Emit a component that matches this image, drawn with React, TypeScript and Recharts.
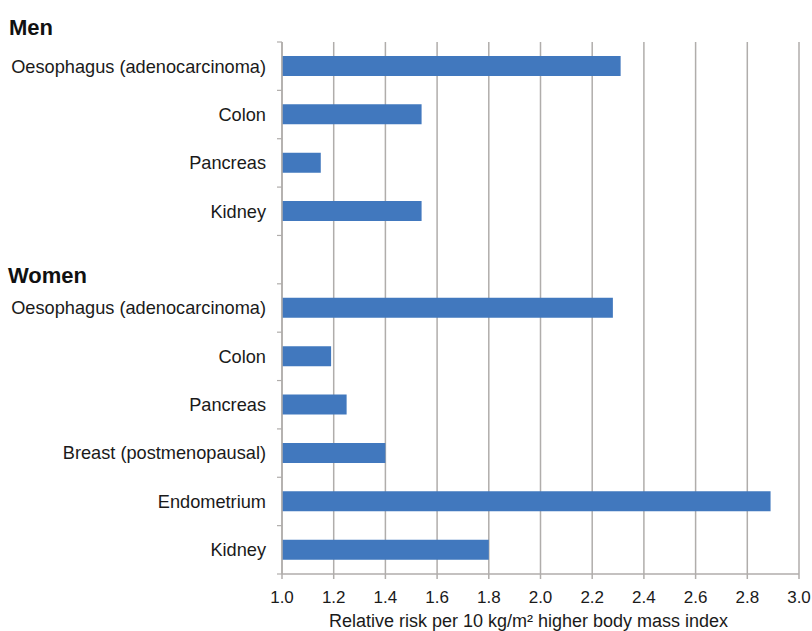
import React from 'react';
import { BarChart, Bar, XAxis, YAxis, CartesianGrid } from 'recharts';

const menCategories = ['Oesophagus (adenocarcinoma)', 'Colon', 'Pancreas', 'Kidney'];
const menRisk = [2.31, 1.54, 1.15, 1.54];
const womenCategories = [
  'Oesophagus (adenocarcinoma)',
  'Colon',
  'Pancreas',
  'Breast (postmenopausal)',
  'Endometrium',
  'Kidney',
];
const womenRisk = [2.28, 1.19, 1.25, 1.4, 2.89, 1.8];
const xTicks = [1.0, 1.2, 1.4, 1.6, 1.8, 2.0, 2.2, 2.4, 2.6, 2.8, 3.0];
const groupHeaders = ['Men', 'Women'];
const xTitle = 'Relative risk per 10 kg/m² higher body mass index';

const data = [
  ...menCategories.map((c, i) => ({ key: `men-${i}`, label: c, risk: menRisk[i] })),
  { key: 'gap', label: '', risk: null },
  ...womenCategories.map((c, i) => ({ key: `women-${i}`, label: c, risk: womenRisk[i] })),
];
const labelByKey: Record<string, string> = {};
data.forEach((d) => (labelByKey[d.key] = d.label));

const W = 812;
const H = 631;
const MARGIN = { top: 42, right: 13, bottom: 0, left: 0 };
const Y_AXIS_W = 282;
const X_AXIS_H = 57;
const BAND = (H - MARGIN.top - MARGIN.bottom - X_AXIS_H) / data.length;
const FONT = '"Liberation Sans", Arial, Helvetica, sans-serif';
const TEXT = '#1a1a1a';
const GRID = '#b0adab';
const BAR = '#4178be';

const YTick = (props: any) => {
  const { y, payload, index } = props;
  const axisX = MARGIN.left + Y_AXIS_W;
  const top = y - BAND / 2;
  const bottom = y + BAND / 2;
  return (
    <g>
      <line x1={axisX - 5} x2={axisX} y1={top} y2={top} stroke={GRID} strokeWidth={1.2} />
      {index === data.length - 1 && (
        <line x1={axisX - 5} x2={axisX} y1={bottom} y2={bottom} stroke={GRID} strokeWidth={1.2} />
      )}
      <text
        x={axisX - 16}
        y={y}
        dy="0.35em"
        textAnchor="end"
        fontSize={18.2}
        fontFamily={FONT}
        fill={TEXT}
      >
        {labelByKey[payload.value]}
      </text>
    </g>
  );
};

export default function App() {
  return (
    <div style={{ position: 'absolute', left: 0, top: 0, width: W, height: H, background: '#fff' }}>
      <BarChart width={W} height={H} data={data} layout="vertical" margin={MARGIN} barSize={20}>
        <CartesianGrid horizontal={false} stroke={GRID} strokeWidth={1.5} />
        <XAxis
          type="number"
          domain={[1, 3]}
          ticks={xTicks}
          interval={0}
          allowDataOverflow
          height={X_AXIS_H}
          tickFormatter={(v: number) => v.toFixed(1)}
          tick={{ fontSize: 17, fontFamily: FONT, fill: TEXT }}
          axisLine={{ stroke: GRID, strokeWidth: 1.5 }}
          tickLine={{ stroke: GRID, strokeWidth: 1.5 }}
          tickSize={5}
          tickMargin={12}
          label={{
            value: xTitle,
            position: 'insideBottom',
            offset: 4,
            dx: -12,
            fontSize: 18,
            fontFamily: FONT,
            fill: TEXT,
          }}
        />
        <YAxis
          type="category"
          dataKey="key"
          width={Y_AXIS_W}
          interval={0}
          axisLine={{ stroke: GRID, strokeWidth: 1.5 }}
          tickLine={false}
          tick={<YTick />}
        />
        <Bar dataKey="risk" fill={BAR} isAnimationActive={false} />
      </BarChart>
      <svg
        width={W}
        height={H}
        style={{ position: 'absolute', left: 0, top: 0, pointerEvents: 'none' }}
      >
        <text x={9} y={35} fontSize={22} fontWeight="bold" fontFamily={FONT} fill="#111">
          {groupHeaders[0]}
        </text>
        <text x={8} y={283} fontSize={22} fontWeight="bold" fontFamily={FONT} fill="#111">
          {groupHeaders[1]}
        </text>
      </svg>
    </div>
  );
}
